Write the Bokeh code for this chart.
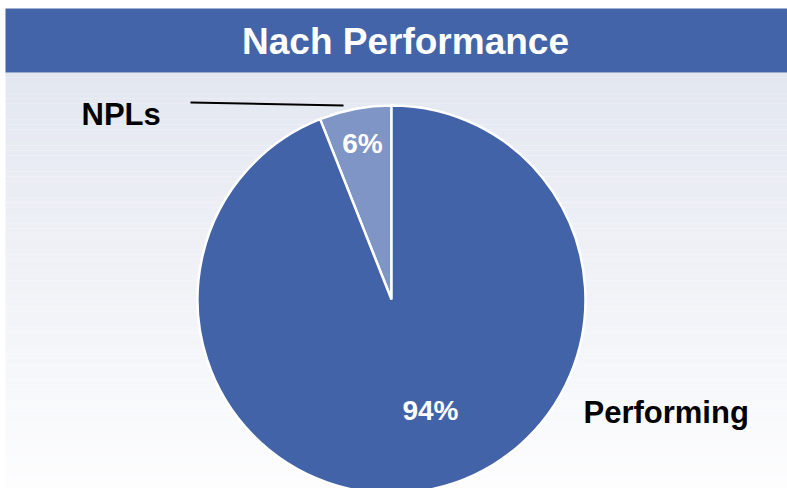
import numpy as np
from bokeh.plotting import figure
from bokeh.models import Range1d, ColumnDataSource
from bokeh.core.properties import value
from bokeh.embed import file_html
from bokeh.resources import INLINE

# ---- data ----
title = "Nach Performance"
categories = ["NPLs", "Performing"]
shares = [6, 94]
pct_labels = ["6%", "94%"]
slice_colors = ["#7F95C6", "#4363A8"]

# ---- layout (screen pixel space, y up) ----
W, H = 787, 488
p = figure(width=W, height=H, output_backend="svg", toolbar_location=None,
           x_range=Range1d(0, W), y_range=Range1d(0, H), min_border=0,
           background_fill_color="white", border_fill_color="white")
p.axis.visible = False
p.grid.visible = False
p.outline_line_color = None

def sy(screen_y):
    return H - screen_y

# background gradient below title bar
top_c = np.array([0xE3, 0xE7, 0xF0])
bot_c = np.array([0xFD, 0xFD, 0xFE])
n = 80
bar_bottom = sy(72)
edges = np.linspace(bar_bottom, 0, n + 1)
cols = []
for i in range(n):
    t = i / (n - 1)
    c = (top_c * (1 - t) + bot_c * t).round().astype(int)
    cols.append("#%02x%02x%02x" % tuple(c))
p.quad(left=5, right=W + 5, top=edges[:-1], bottom=edges[1:], fill_color=cols, line_color=None)

# title bar
p.quad(left=5, right=W + 5, top=sy(8), bottom=bar_bottom, fill_color="#4364A8", line_color=None)
p.text(x=[405], y=[sy(41)], text=[title], text_color="white", text_font=value("Liberation Sans"),
       text_font_style="bold", text_font_size="37px", text_align="center", text_baseline="middle")

# pie
total = float(sum(shares))
fr = np.array(shares) / total
ends = np.pi / 2 + 2 * np.pi * np.cumsum(fr)
starts = np.concatenate([[np.pi / 2], ends[:-1]])
cx, cy = 391, sy(299)
src = ColumnDataSource(dict(start=starts, end=ends, color=slice_colors, cat=categories))
p.wedge(x=cx, y=cy, radius=194, radius_units="screen", start_angle="start", end_angle="end",
        fill_color="color", line_color="white", line_width=2.5, source=src)

# percent labels
p.text(x=[362, 430], y=[sy(143), sy(410)], text=pct_labels, text_color="white",
       text_font=value("Liberation Sans"), text_font_style="bold", text_font_size="28px",
       text_align="center", text_baseline="middle")

# category labels
p.text(x=[81, 583], y=[sy(114), sy(412)], text=categories, text_color="black",
       text_font=value("Liberation Sans"), text_font_style="bold", text_font_size="31px",
       text_align="left", text_baseline="middle")

# leader line for NPLs
p.line(x=[190, 343], y=[sy(102), sy(105)], line_color="black", line_width=2)

open("out.html", "w").write(file_html(p, INLINE))
